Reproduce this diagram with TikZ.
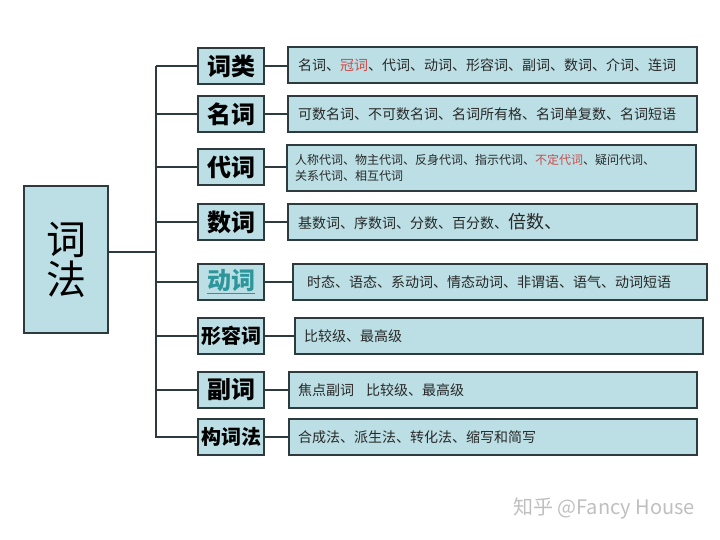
\documentclass[tikz,border=0pt]{standalone}
\usepackage{fontspec}
\setmainfont{Noto Sans CJK SC}

\definecolor{boxfill}{RGB}{187,223,228}
\definecolor{boxline}{RGB}{45,58,62}
\definecolor{inktext}{RGB}{40,40,40}
\definecolor{redword}{RGB}{205,75,75}
\definecolor{linkteal}{RGB}{45,150,155}

\tikzset{
  box/.style={draw=boxline, fill=boxfill, line width=2pt},
  root/.style={box, minimum width=84pt, minimum height=147pt, align=center,
    font=\fontsize{40}{40}\selectfont},
  cat/.style={box, minimum width=66pt, minimum height=36pt, inner sep=0pt,
    font=\bfseries\fontsize{24}{24}\selectfont},
  item/.style={box, anchor=west, minimum height=36pt, align=left, text width=389pt,
    inner xsep=10pt, text=inktext, font=\fontsize{14}{16}\selectfont},
  link/.style={line width=2pt, draw=boxline},
  zhihu/.style={text=black!25, font=\fontsize{20}{20}\selectfont},
}

\begin{document}
\begin{tikzpicture}[x=1pt, y=-1pt]
  \useasboundingbox (0,0) rectangle (720,540);

  % root
  \node[root] (cifa) at (66,259.5) {词\\法};

  % categories
  \node[cat] (cilei)   at (231,66)    {词类};
  \node[cat] (mingci)  at (231,114)   {名词};
  \node[cat] (daici)   at (231,167.5) {代词};
  \node[cat] (shuci)   at (231,222)   {数词};
  \node[cat] (dongci)  at (231,282)   {\textcolor{linkteal}{\underline{动词}}};
  \node[cat, font=\bfseries\fontsize{20}{20}\selectfont] (xingrong) at (231,336) {形容词};
  \node[cat] (fuci)    at (231,390)   {副词};
  \node[cat, font=\bfseries\fontsize{20}{20}\selectfont] (goucifa)  at (231,437) {构词法};

  % contents
  \node[item] (cilei-x) at (287,65)
    {名词、\textcolor{redword}{冠词}、代词、动词、形容词、副词、数词、介词、连词};
  \node[item] (mingci-x) at (287,114)
    {可数名词、不可数名词、名词所有格、名词单复数、名词短语};
  \node[item, minimum height=46pt, text width=393pt, inner xsep=8pt,
    font=\fontsize{12}{16}\selectfont] (daici-x) at (286,168)
    {人称代词、物主代词、反身代词、指示代词、\textcolor{redword}{不定代词}、疑问代词、\\关系代词、相互代词};
  \node[item] (shuci-x) at (287,222)
    {基数词、序数词、分数、百分数、{\fontsize{18}{18}\selectfont 倍数、}};
  \node[item, text width=386pt, inner xsep=14pt] (dongci-x) at (292,282)
    {\raisebox{-3pt}{时态、语态、系动词、情态动词、非谓语、语气、动词短语}};
  \node[item, text width=390pt, inner xsep=9pt] (xingrong-x) at (294,336)
    {比较级、最高级};
  \node[item, text width=390pt, inner xsep=9pt] (fuci-x) at (288,390)
    {焦点副词\hspace{12pt}比较级、最高级};
  \node[item, text width=390pt, inner xsep=9pt] (goucifa-x) at (288,437)
    {合成法、派生法、转化法、缩写和简写};

  % trunk and branches
  \coordinate (top) at (156,66);
  \coordinate (bot) at (156,437.5);
  \coordinate (join) at (156,252);
  \draw[link] (top) -- (bot);
  \draw[link] (cifa.east |- join) -- (join);
  \foreach \n in {cilei,mingci,daici,shuci,dongci,xingrong,fuci,goucifa}{
    \draw[link] (\n.west -| top) -- (\n.west);
    \draw[link] (\n.east) -- (\n.east -| \n-x.west);
  }

  \node[zhihu] (sign) at (604,508) {知乎 @Fancy House};
\end{tikzpicture}
\end{document}
